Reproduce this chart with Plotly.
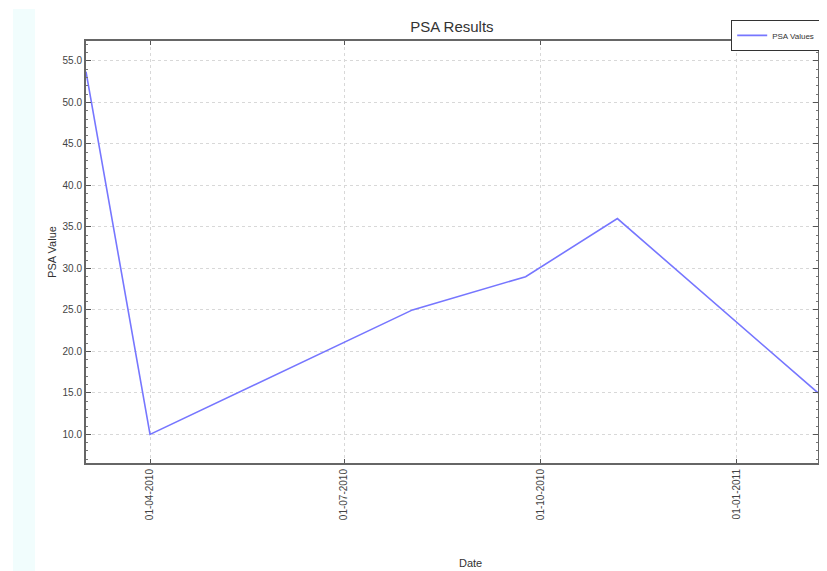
import plotly.graph_objects as go

dates = ["2010-03-02", "2010-04-01", "2010-08-02", "2010-09-24", "2010-11-06", "2011-02-08"]
psa_values = [53.7, 10.0, 25.0, 29.0, 36.0, 15.0]
x_ticks = ["2010-04-01", "2010-07-01", "2010-10-01", "2011-01-01"]
x_tick_labels = ["01-04-2010", "01-07-2010", "01-10-2010", "01-01-2011"]
y_ticks = [10, 15, 20, 25, 30, 35, 40, 45, 50, 55]
y_tick_labels = ["10.0", "15.0", "20.0", "25.0", "30.0", "35.0", "40.0", "45.0", "50.0", "55.0"]

fig = go.Figure()
fig.add_trace(go.Scatter(
    x=dates, y=psa_values, mode="lines", name="PSA Values",
    line=dict(color="rgb(118,118,255)", width=1.6),
))

axis_font = dict(family="Liberation Sans, Arial, sans-serif", size=10, color="#444")

# page body has an 8px margin, so the figure is 8px smaller and margins shifted
fig.update_layout(
    width=819, height=563,
    margin=dict(l=78, r=9, t=33, b=108, autoexpand=False),
    paper_bgcolor="white", plot_bgcolor="white",
    font=dict(family="Liberation Sans, Arial, sans-serif", color="#333"),
    title=dict(text="PSA Results", x=0.542, xanchor="center",
               yref="container", y=0.966, yanchor="middle",
               font=dict(size=15, color="#333")),
    showlegend=True,
    legend=dict(x=1.003, xanchor="right", y=1.05, yanchor="top",
                bordercolor="#333", borderwidth=1, bgcolor="white",
                font=dict(size=8, color="#333"), itemwidth=30,
                tracegroupgap=0),
    shapes=[dict(type="rect", xref="paper", yref="paper",
                 x0=-0.0997, x1=-0.0697, y0=-0.26, y1=1.076,
                 fillcolor="#f1fdfd", line=dict(width=0), layer="below")],
    annotations=[dict(text="Date", xref="paper", yref="paper", x=0.5246, y=-0.237,
                      xanchor="center", yanchor="middle", showarrow=False,
                      font=dict(size=11, color="#333"))],
)

fig.update_xaxes(
    range=["2010-03-02", "2011-02-08"],
    tickmode="array", tickvals=x_ticks, ticktext=x_tick_labels,
    tickangle=-90, tickfont=axis_font, automargin=False,
    ticks="inside", ticklen=4, tickcolor="#555",
    showline=True, linecolor="#666", linewidth=2, mirror="ticks",
    showgrid=True, gridcolor="#d8d8d8", griddash="dot", gridwidth=1,
    zeroline=False,
)

fig.update_yaxes(
    range=[6.55, 57.4],
    tickmode="array", tickvals=y_ticks, ticktext=y_tick_labels,
    tickfont=axis_font, automargin=False,
    ticks="inside", ticklen=5, tickcolor="#555",
    minor=dict(dtick=1, ticks="inside", ticklen=2, tickcolor="#777", showgrid=False),
    showline=True, linecolor="#666", linewidth=2, mirror="ticks",
    showgrid=True, gridcolor="#d8d8d8", griddash="dot", gridwidth=1,
    zeroline=False,
    title=dict(text="PSA Value", font=dict(size=11, color="#333"), standoff=4),
)

fig.write_html("out.html")
